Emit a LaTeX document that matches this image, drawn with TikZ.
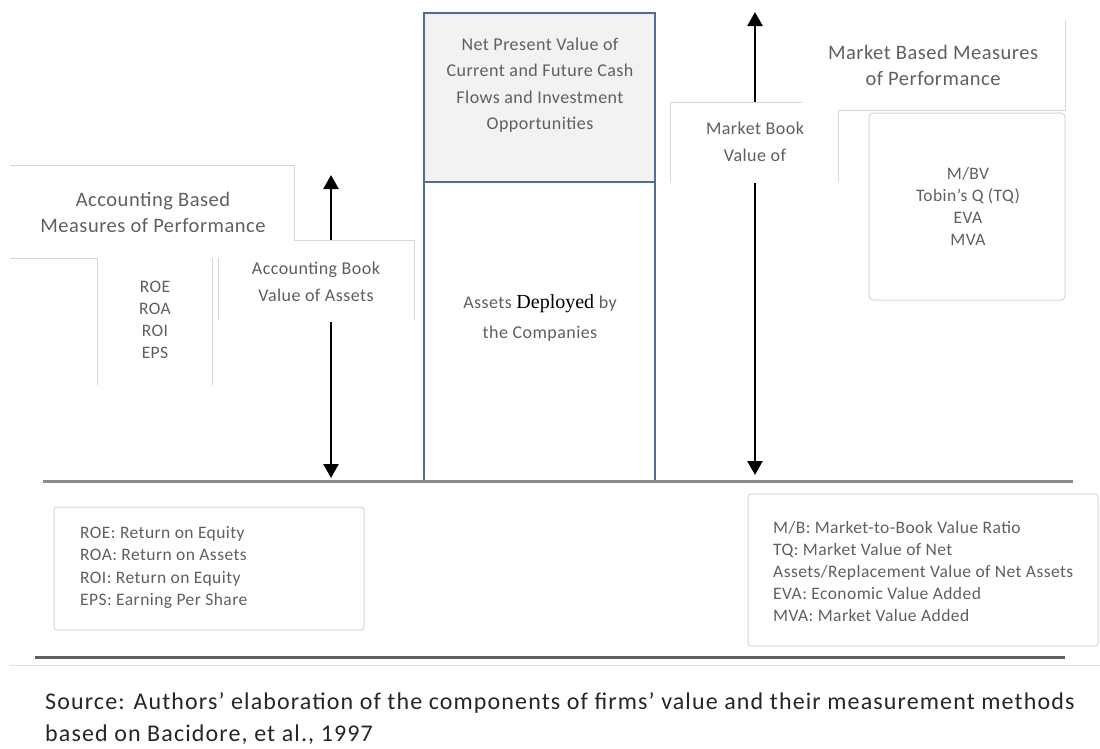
\documentclass[tikz,border=0pt]{standalone}
\usepackage{fontspec}
\setmainfont{Carlito}[LetterSpace=2.5]
\newfontfamily\sourcefont{Carlito}[LetterSpace=4.7]
\newfontfamily\serifword{Liberation Serif}
\usetikzlibrary{arrows.meta}
\definecolor{boxblue}{RGB}{79,108,160}
\definecolor{boxgrey}{RGB}{215,215,215}
\definecolor{textgrey}{RGB}{95,95,95}
\tikzstyle{boxline}=[draw=boxgrey,line width=1pt]
\tikzstyle{cover}=[fill=white,draw=none]
\tikzstyle{centerbox}=[draw=boxblue,line width=2pt]
\tikzstyle{edge}=[draw,line width=2.5pt,{Triangle[width=15pt,length=14pt]}-{Triangle[width=15pt,length=14pt]}]
\tikzstyle{heading}=[text=textgrey,align=center,inner sep=0pt,font=\fontsize{20.5}{25.5}\selectfont]
\tikzstyle{boxtext}=[text=textgrey,align=center,inner sep=0pt,font=\fontsize{18}{27}\selectfont]
\tikzstyle{listtext}=[text=textgrey,align=center,inner sep=0pt,font=\fontsize{17.5}{22}\selectfont]
\tikzstyle{legend}=[text=textgrey,align=left,anchor=west,inner sep=0pt,font=\fontsize{17.5}{22.5}\selectfont]

\begin{document}
\begin{tikzpicture}[x=1pt,y=-1pt]

    \useasboundingbox (0,0) rectangle (1100,748);

    % arrows for the two book values
    \coordinate (abtop) at (331,175);
    \coordinate (abbot) at (331,478);
    \coordinate (mbtop) at (755,12);
    \coordinate (mbbot) at (755,475);
    \path[edge] (abbot) -- (abtop);
    \path[edge] (mbbot) -- (mbtop);

    % text boxes lying over the arrows
    \fill[cover] (218,240) rectangle (414,322);
    \fill[cover] (670,102) rectangle (838,183);

    % visible parts of the light text box borders
    \draw[boxline] (10,165) -- (294,165) -- (294,240);
    \draw[boxline] (10,258) -- (97,258);
    \draw[boxline] (97,258) -- (97,385);
    \draw[boxline] (212,258) -- (212,385);
    \draw[boxline] (294,240) -- (414,240) -- (414,320);
    \draw[boxline] (218,258) -- (218,320);
    \draw[boxline] (670,183) -- (670,102) -- (802,102);
    \draw[boxline] (838,182) -- (838,110) -- (1065,110) -- (1065,20);
    \draw[boxline, rounded corners=4pt] (869,113) rectangle (1065,300);

    % firm value boxes
    \draw[centerbox, fill=black!5] (424,13) rectangle (655,182);
    \draw[centerbox] (424,182) rectangle (655,482);

    % ground lines
    \draw[line width=3pt, black!45] (43,481) -- (1073,481);
    \draw[line width=3pt, black!62] (35,657) -- (1065,657);
    \draw[line width=1pt, black!12] (10,665) -- (1100,665);

    % legends
    \draw[boxline, rounded corners=3pt] (54,507) rectangle (364,630);
    \draw[boxline, rounded corners=3pt] (748,494) rectangle (1098,646);

    % texts
    \node[heading] (acchead) at (153,212.5) {Accounting Based\\Measures of Performance};
    \node[listtext] (acclist) at (155,320) {ROE\\ROA\\ROI\\EPS};
    \node[boxtext] (abv) at (316,281.5) {Accounting Book\\Value of Assets};
    \node[boxtext, font=\fontsize{18}{26.5}\selectfont] (npv) at (540,85)
        {Net Present Value of\\Current and Future Cash\\Flows and Investment\\Opportunities};
    \node[boxtext, font=\fontsize{18}{30}\selectfont] (assets) at (540,318)
        {Assets {\serifword\fontsize{20}{30}\selectfont\color{black}Deployed} by\\the Companies};
    \node[boxtext] (mbv) at (755,141.5) {Market Book\\Value of};
    \node[heading, font=\fontsize{20.5}{26.5}\selectfont] (mkthead) at (933,65.5) {Market Based Measures\\of Performance};
    \node[listtext] (mktlist) at (968,206) {M/BV\\Tobin’s Q (TQ)\\EVA\\MVA};

    \node[legend] (accleg) at (80,567.5) {ROE: Return on Equity\\ROA: Return on Assets\\ROI: Return on Equity\\EPS: Earning Per Share};
    \node[legend, font=\fontsize{17.5}{22}\selectfont] (mktleg) at (773,571) {M/B: Market-to-Book Value Ratio\\TQ: Market Value of Net\\Assets/Replacement Value of Net Assets\\EVA: Economic Value Added\\MVA: Market Value Added};

    \node[legend, text=black!85, font=\sourcefont\fontsize{24}{32}\selectfont] (source) at (45,719)
        {Source: Authors’ elaboration of the components of firms’ value and their measurement methods\\based on Bacidore, et al., 1997};

\end{tikzpicture}
\end{document}
